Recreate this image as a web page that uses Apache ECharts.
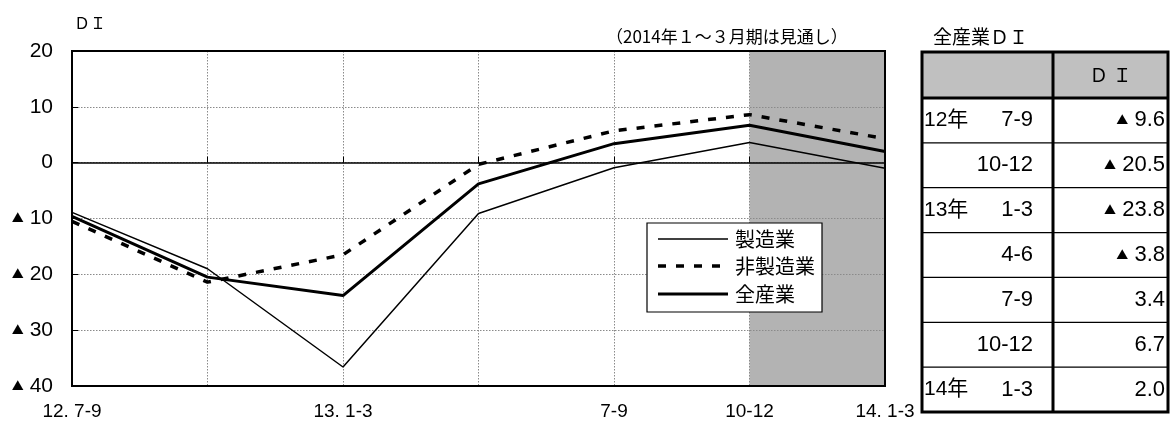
<!DOCTYPE html>
<html>
<head>
<meta charset="utf-8">
<script src="https://cdn.jsdelivr.net/npm/echarts@6/dist/echarts.min.js"></script>
<style>
  html, body { margin: 0; padding: 0; background: #fff; }
  #chart { width: 1171px; height: 424px; }
</style>
</head>
<body>
<div id="chart"></div>
<script>
// Quarterly business-conditions DI, by sector
const categories = ['12.7-9', '12.10-12', '13.1-3', '13.4-6', '13.7-9', '13.10-12', '14.1-3'];
const xTickLabels = ['12. 7-9', '', '13. 1-3', '', '7-9', '10-12', '14. 1-3'];
const manufacturing = [-8.9, -19.0, -36.6, -9.1, -0.9, 3.6, -1.0];
const nonManufacturing = [-10.5, -21.4, -16.5, -0.3, 5.7, 8.6, 4.3];
const allIndustries = [-9.6, -20.5, -23.8, -3.8, 3.4, 6.7, 2.0];
const seriesNames = ['製造業', '非製造業', '全産業'];

// Side table: period labels for the 全産業 column
const tableYears = ['12年', '', '13年', '', '', '', '14年'];
const tablePeriods = ['7-9', '10-12', '1-3', '4-6', '7-9', '10-12', '1-3'];

const NUM_FONT = '"Liberation Sans Narrow", "Liberation Sans", "Noto Sans CJK JP", sans-serif';
const JP_FONT = '"Noto Sans CJK JP", sans-serif';

// Line styles shared by the series and the hand-drawn key
const lineStyles = [
  { color: '#000', width: 1.5, type: 'solid' },
  { color: '#000', width: 3.5, type: [8, 10] },
  { color: '#000', width: 3, type: 'solid' }
];

// Table geometry
const T = { left: 922, right: 1168, top: 52, headBottom: 98, bottom: 412, split: 1053 };
const rowH = (T.bottom - T.headBottom) / allIndustries.length;
const tableGraphics = [];
tableGraphics.push({
  type: 'rect', shape: { x: T.left, y: T.top, width: T.right - T.left, height: T.headBottom - T.top },
  style: { fill: '#c0c0c0' }, z: 10
});
for (let i = 1; i < allIndustries.length; i++) {
  const y = T.headBottom + rowH * i;
  tableGraphics.push({
    type: 'line', shape: { x1: T.left, y1: y, x2: T.right, y2: y },
    style: { stroke: '#000', lineWidth: 1.2 }, z: 11
  });
}
tableGraphics.push({
  type: 'line', shape: { x1: T.left, y1: T.headBottom, x2: T.right, y2: T.headBottom },
  style: { stroke: '#000', lineWidth: 3 }, z: 12
});
tableGraphics.push({
  type: 'line', shape: { x1: T.split, y1: T.top, x2: T.split, y2: T.bottom },
  style: { stroke: '#000', lineWidth: 3 }, z: 12
});
tableGraphics.push({
  type: 'rect', shape: { x: T.left, y: T.top, width: T.right - T.left, height: T.bottom - T.top },
  style: { fill: null, stroke: '#000', lineWidth: 3 }, z: 13
});
tableGraphics.push({
  type: 'text', x: (T.split + T.right) / 2, y: (T.top + T.headBottom) / 2, z: 14,
  style: { text: 'Ｄ Ｉ', font: '19px ' + JP_FONT, fill: '#000', align: 'center', verticalAlign: 'middle' }
});
allIndustries.forEach((v, i) => {
  const cy = T.headBottom + rowH * (i + 0.5);
  if (tableYears[i]) {
    tableGraphics.push({
      type: 'text', x: T.left + 2, y: cy, z: 14,
      style: { text: tableYears[i], font: '21px ' + NUM_FONT, fill: '#000', align: 'left', verticalAlign: 'middle' }
    });
  }
  tableGraphics.push({
    type: 'text', x: 1033, y: cy, z: 14,
    style: { text: tablePeriods[i], font: '22px ' + NUM_FONT, fill: '#000', align: 'right', verticalAlign: 'middle' }
  });
  const num = Math.abs(v).toFixed(1);
  tableGraphics.push({
    type: 'text', x: 1165, y: cy, z: 14,
    style: {
      text: v < 0 ? '{t|▲} ' + num : num,
      align: 'right', verticalAlign: 'middle',
      font: '22px ' + NUM_FONT, fill: '#000',
      rich: { t: { fontSize: 12, fontFamily: JP_FONT, fill: '#000' } }
    }
  });
});

// Key box inside the plot
const keyGraphics = [{
  type: 'rect', shape: { x: 647, y: 223, width: 175, height: 89 },
  style: { fill: '#fff', stroke: '#000', lineWidth: 1.2 }, z: 20
}];
const keyRows = [239, 266, 294];
seriesNames.forEach((name, i) => {
  const ls = lineStyles[i];
  keyGraphics.push({
    type: 'line', shape: { x1: 658, y1: keyRows[i], x2: 728, y2: keyRows[i] },
    style: { stroke: ls.color, lineWidth: ls.width, lineDash: Array.isArray(ls.type) ? ls.type : null },
    z: 21
  });
  keyGraphics.push({
    type: 'text', x: 735, y: keyRows[i], z: 21,
    style: { text: name, font: '20px ' + JP_FONT, fill: '#000', align: 'left', verticalAlign: 'middle' }
  });
});

const chart = echarts.init(document.getElementById('chart'), null, { renderer: 'canvas' });

chart.setOption({
  backgroundColor: '#fff',
  animation: false,
  grid: {
    left: 72, right: 286, top: 51, bottom: 38,
    show: true, borderColor: '#000', borderWidth: 2, backgroundColor: 'transparent', z: 4
  },
  xAxis: {
    type: 'category',
    data: categories,
    boundaryGap: false,
    z: 2,
    axisLine: { show: false },
    axisTick: { show: true, inside: true, length: 6, lineStyle: { color: '#000', width: 1 } },
    axisLabel: {
      interval: 0, margin: 16,
      fontFamily: NUM_FONT, fontSize: 19, color: '#000',
      formatter: (v, i) => xTickLabels[i]
    },
    splitLine: { show: true, lineStyle: { color: '#8a8a8a', type: [1.5, 1.5], width: 1 } }
  },
  yAxis: {
    type: 'value',
    min: -40, max: 20, interval: 10,
    z: 2,
    axisLine: { show: false },
    axisTick: { show: true, inside: true, length: 6, lineStyle: { color: '#000', width: 1 } },
    axisLabel: {
      margin: 19,
      fontFamily: NUM_FONT, fontSize: 21, color: '#000',
      formatter: v => v < 0 ? '{t|▲} ' + Math.abs(v) : String(v),
      rich: { t: { fontSize: 12, fontFamily: JP_FONT, color: '#000' } }
    },
    splitLine: { show: true, lineStyle: { color: '#8a8a8a', type: [1.5, 1.5], width: 1 } }
  },
  graphic: [
    {
      type: 'text', left: 74, top: 15,
      style: { text: 'ＤＩ', font: '16px ' + JP_FONT, fill: '#000' }
    },
    {
      type: 'text', left: 606, top: 28,
      style: { text: '（2014年１～３月期は見通し）', font: '17px ' + JP_FONT, fill: '#000' }
    },
    {
      type: 'text', left: 933, top: 27,
      style: { text: '全産業ＤＩ', font: '19px ' + JP_FONT, fill: '#000' }
    },
    ...keyGraphics,
    ...tableGraphics
  ],
  series: [
    {
      name: seriesNames[0], type: 'line', data: manufacturing,
      symbol: 'none', z: 3,
      lineStyle: lineStyles[0],
      itemStyle: { color: '#000' },
      markArea: {
        silent: true, z: 1,
        itemStyle: { color: '#b3b3b3' },
        data: [[{ xAxis: 5 }, { xAxis: 6 }]]
      },
      markLine: {
        silent: true, symbol: 'none', z: 3,
        label: { show: false },
        lineStyle: { color: '#000', type: 'solid', width: 1.5 },
        data: [{ yAxis: 0 }]
      }
    },
    {
      name: seriesNames[1], type: 'line', data: nonManufacturing,
      symbol: 'none', z: 3,
      lineStyle: lineStyles[1],
      itemStyle: { color: '#000' }
    },
    {
      name: seriesNames[2], type: 'line', data: allIndustries,
      symbol: 'none', z: 3,
      lineStyle: lineStyles[2],
      itemStyle: { color: '#000' }
    }
  ]
});
</script>
</body>
</html>
